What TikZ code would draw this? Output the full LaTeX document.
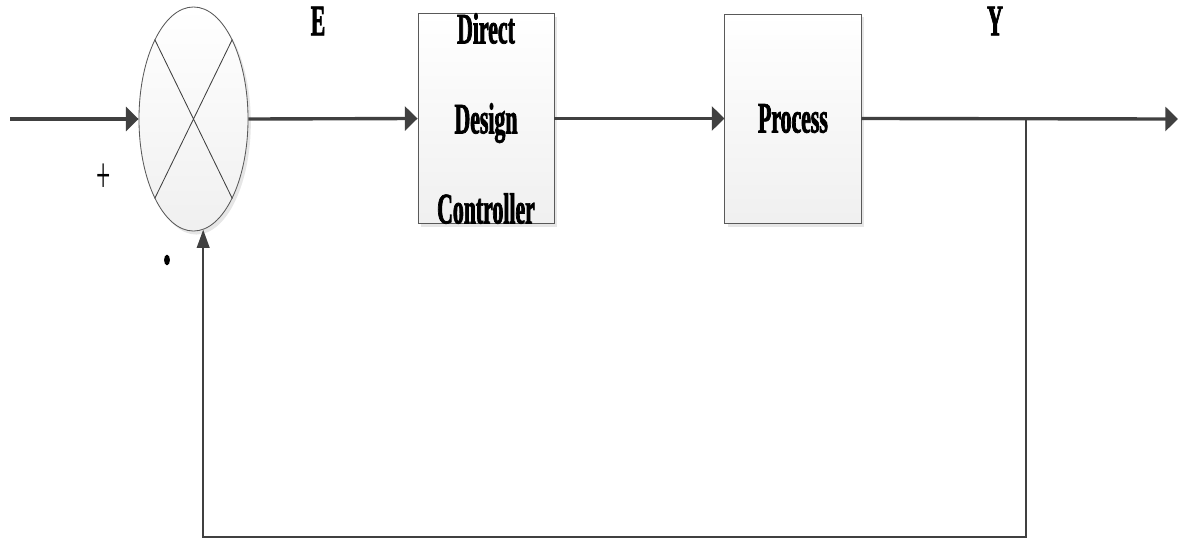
\documentclass[tikz,border=0pt]{standalone}
\usepackage{fontspec}
\newfontfamily\condfont[FakeStretch=0.5, BoldFeatures={FakeBold=1.6}]{Liberation Serif}
\usepackage{tikz}
\usetikzlibrary{shapes.geometric, arrows.meta, shadows, positioning}
\definecolor{wire}{HTML}{404040}
\tikzstyle{block} = [rectangle, draw=gray!70!black, line width=0.6pt,
    top color=white, bottom color=gray!12, minimum width=3.4cm,
    minimum height=5.225cm, inner sep=0pt, align=center,
    drop shadow={shadow xshift=2pt, shadow yshift=-2.5pt, opacity=0.2},
font=\condfont\bfseries\fontsize{31}{64}\selectfont]
\tikzstyle{summer} = [ellipse, draw=gray!70!black, line width=0.6pt,
    top color=white, bottom color=gray!12, minimum width=2.725cm,
    minimum height=5.6cm, inner sep=0pt,
    drop shadow={shadow xshift=2pt, shadow yshift=-2.5pt, opacity=0.2}]
\tikzstyle{signal} = [line width=2.4pt, draw=wire,
    -{Triangle[length=9pt,width=17pt]}]
\tikzstyle{feedback} = [line width=1.4pt, draw=wire,
    -{Triangle[length=13pt,width=9pt]}]
\tikzstyle{tag} = [inner sep=0pt, font=\condfont\bfseries\fontsize{31}{36}\selectfont]

\begin{document}
\begin{tikzpicture}[x=0.025cm, y=-0.025cm]
            \useasboundingbox (0,0) rectangle (1180,540);
            % Blocks
            \node[summer] (sum) at (193.5,119) {};
            \draw[wire, line width=0.6pt] (sum.64) -- (sum.244)
                (sum.116) -- (sum.296);
            \node[block] (ddc) at (486,118.5) {Direct\\Design\\Controller};
            \node[block, right=4.25cm of ddc] (proc) {Process};
            % Signal names and signs
            \node[tag] (err) at (318,21) {E};
            \node[tag] (out) at (995,21) {Y};
            \node[tag, font=\condfont\fontsize{36}{40}\selectfont] (plus) at (104,178) {+};
            \node[tag, font=\condfont\bfseries\fontsize{42}{46}\selectfont] (minus) at (167,260) {.};
            % Free ends
            \coordinate (src) at (10,119);
            \coordinate (sink) at (1178,119);
            \coordinate (tap) at (1026,119);
            \coordinate (low) at (1026,537);
            % Arrows
            \draw[signal] (src) -- (sum.west);
            \draw[signal] (sum.east) -- (ddc.west);
            \draw[signal] (ddc.east) -- (proc.west);
            \draw[signal] (proc.east) -- (sink);
            \draw[feedback] (tap) -- (low) -| (sum.275);

        \end{tikzpicture}
\end{document}
